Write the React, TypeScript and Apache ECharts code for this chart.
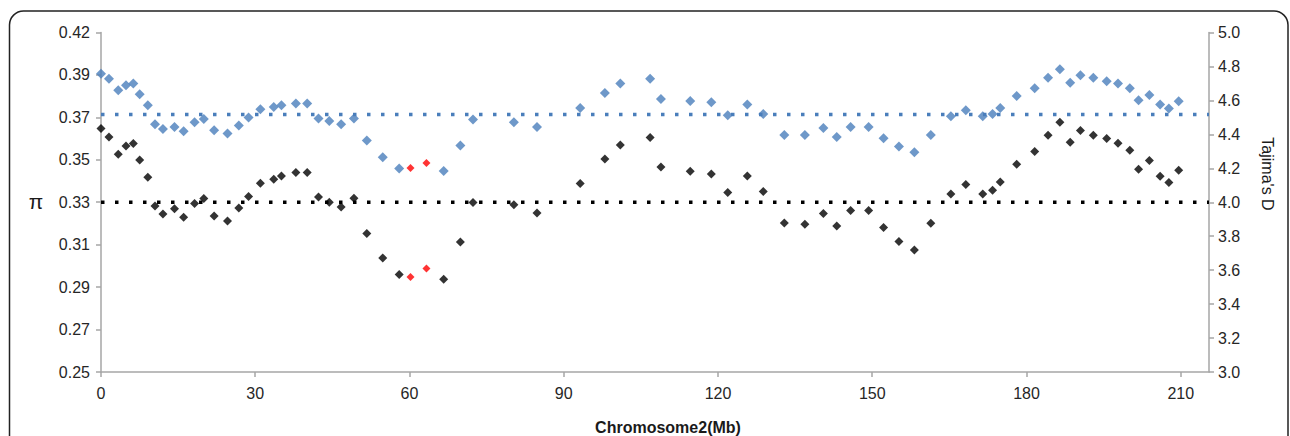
import React, { useEffect, useRef } from "react";
import * as echarts from "echarts";

// Window positions along chromosome 2 (Mb)
const xMb = [
  0.0, 1.55, 3.36, 4.86, 6.28, 7.52, 9.1, 10.5, 12.05, 14.3,
  16.07, 18.2, 20.0, 22.0, 24.6, 26.8, 28.7, 31.0, 33.6, 35.1,
  37.9, 40.1, 42.3, 44.4, 46.7, 49.2, 51.7, 54.8, 58.0, 60.2,
  63.3, 66.65, 69.9, 72.35, 80.3, 84.8, 93.2, 98.0, 101.0, 106.8,
  108.9, 114.6, 118.7, 121.9, 125.7, 128.8, 132.9, 136.9, 140.5, 143.1,
  145.8, 149.3, 152.2, 155.2, 158.2, 161.4, 165.3, 168.2, 171.5, 173.4,
  174.9, 178.1, 181.6, 184.2, 186.5, 188.5, 190.5, 193.0, 195.6, 197.8,
  200.1, 201.8, 203.9, 206.0, 207.7, 209.6,
];

// Nucleotide diversity (π), left axis
const piValues = [
  0.3994, 0.3969, 0.3911, 0.3936, 0.3944, 0.3891, 0.3836, 0.374, 0.3717, 0.3727,
  0.3705, 0.375, 0.3767, 0.371, 0.3694, 0.3734, 0.3774, 0.3816, 0.3827, 0.3836,
  0.3844, 0.3844, 0.3769, 0.3757, 0.374, 0.3769, 0.3659, 0.3575, 0.3519, 0.3522,
  0.3547, 0.3507, 0.3634, 0.3764, 0.375, 0.3727, 0.3822, 0.3897, 0.3944, 0.3969,
  0.3867, 0.3857, 0.3851, 0.3786, 0.3839, 0.3792, 0.3687, 0.3687, 0.3722, 0.3677,
  0.3727, 0.3727, 0.367, 0.3629, 0.36, 0.3687, 0.3781, 0.3811, 0.3781, 0.3792,
  0.3822, 0.3882, 0.3921, 0.3974, 0.4016, 0.3949, 0.3986, 0.3974, 0.3956, 0.3944,
  0.3921, 0.3861, 0.3887, 0.3839, 0.3819, 0.3856,
];

// Tajima's D, right axis
const tajimaD = [
  4.434, 4.385, 4.283, 4.332, 4.346, 4.249, 4.147, 3.978, 3.931, 3.961,
  3.912, 3.992, 4.022, 3.919, 3.89, 3.966, 4.034, 4.112, 4.135, 4.155,
  4.175, 4.175, 4.031, 4.0, 3.972, 4.024, 3.816, 3.672, 3.574, 3.56,
  3.61, 3.547, 3.766, 3.998, 3.986, 3.937, 4.11, 4.255, 4.337, 4.381,
  4.208, 4.183, 4.167, 4.057, 4.155, 4.063, 3.878, 3.87, 3.933, 3.86,
  3.951, 3.951, 3.851, 3.769, 3.719, 3.876, 4.049, 4.104, 4.049, 4.071,
  4.12, 4.224, 4.299, 4.395, 4.471, 4.353, 4.422, 4.395, 4.375, 4.347,
  4.306, 4.194, 4.246, 4.153, 4.116, 4.188,
];

// Windows highlighted in red
const redIndices = [29, 30];

// Genome-wide reference levels
const piMean = 0.3789;
const dMean = 4.0;

const piTickValues = [0.25, 0.27125, 0.2925, 0.31375, 0.335, 0.35625, 0.3775, 0.39875, 0.42];
const piTickLabels = ["0.25", "0.27", "0.29", "0.31", "0.33", "0.35", "0.37", "0.39", "0.42"];
const xTickValues = [0, 30, 60, 90, 120, 150, 180, 210];

const X_MAX = 215.5;
const FONT = "'Liberation Sans', Arial, sans-serif";
const AXIS_COLOR = "#a6a6a6";
const LABEL_COLOR = "#262626";
const BLUE = "#4a7ebb";

export default function App() {
  const ref = useRef<HTMLDivElement>(null);

  useEffect(() => {
    if (!ref.current) return;
    const chart = echarts.init(ref.current, undefined, { renderer: "svg" });

    const piLabel = (v: number) => {
      let best = 0;
      for (let i = 1; i < piTickValues.length; i++) {
        if (Math.abs(piTickValues[i] - v) < Math.abs(piTickValues[best] - v)) best = i;
      }
      return piTickLabels[best];
    };

    const blueData = xMb.map((x, i) =>
      redIndices.includes(i)
        ? { value: [x, piValues[i]], symbolSize: 8, itemStyle: { color: "#ff0000" } }
        : { value: [x, piValues[i]] }
    );
    const blackData = xMb.map((x, i) =>
      redIndices.includes(i)
        ? { value: [x, tajimaD[i]], symbolSize: 8, itemStyle: { color: "#ff0000" } }
        : { value: [x, tajimaD[i]] }
    );

    chart.setOption({
      animation: false,
      backgroundColor: "#ffffff",
      textStyle: { fontFamily: FONT },
      grid: {
        left: 101,
        right: 81,
        top: 32.5,
        bottom: 64,
        containLabel: false,
        outerBoundsMode: "none",
      },
      xAxis: {
        type: "value",
        min: 0,
        max: X_MAX,
        axisLine: { show: true, lineStyle: { color: AXIS_COLOR, width: 1.5 } },
        axisTick: {
          show: true,
          length: 5,
          customValues: xTickValues,
          lineStyle: { color: AXIS_COLOR, width: 1.5 },
        },
        axisLabel: {
          customValues: xTickValues,
          margin: 13,
          fontSize: 16,
          color: LABEL_COLOR,
          fontFamily: FONT,
        },
        splitLine: { show: false },
      },
      yAxis: [
        {
          type: "value",
          position: "left",
          min: 0.25,
          max: 0.42,
          axisLine: { show: true, lineStyle: { color: AXIS_COLOR, width: 1.5 } },
          axisTick: {
            show: true,
            length: 5,
            customValues: piTickValues,
            lineStyle: { color: AXIS_COLOR, width: 1.5 },
          },
          axisLabel: {
            customValues: piTickValues,
            formatter: (v: number) => piLabel(v),
            margin: 11,
            fontSize: 16,
            color: LABEL_COLOR,
            fontFamily: FONT,
          },
          splitLine: { show: false },
        },
        {
          type: "value",
          position: "right",
          min: 3,
          max: 5,
          interval: 0.2,
          axisLine: { show: true, lineStyle: { color: AXIS_COLOR, width: 1.5 } },
          axisTick: { show: true, length: 5, lineStyle: { color: AXIS_COLOR, width: 1.5 } },
          axisLabel: {
            formatter: (v: number) => v.toFixed(1),
            margin: 9,
            fontSize: 16,
            color: LABEL_COLOR,
            fontFamily: FONT,
          },
          splitLine: { show: false },
        },
      ],
      graphic: [
        {
          type: "rect",
          shape: { x: 9.5, y: 11, width: 1278.5, height: 470, r: 14 },
          style: { fill: "none", stroke: "#222222", lineWidth: 1.5 },
          silent: true,
          z: -1,
        },
        {
          type: "text",
          x: 36,
          y: 201,
          style: {
            text: "π",
            fontSize: 21,
            fontFamily: FONT,
            fill: "#1a1a1a",
            textAlign: "center",
            textVerticalAlign: "middle",
          },
        },
        {
          type: "text",
          x: 1267,
          y: 174,
          rotation: -Math.PI / 2,
          style: {
            text: "Tajima's D",
            fontSize: 16,
            fontFamily: FONT,
            fill: "#1a1a1a",
            textAlign: "center",
            textVerticalAlign: "middle",
          },
        },
        {
          type: "text",
          x: 668,
          y: 427,
          style: {
            text: "Chromosome2(Mb)",
            fontSize: 16,
            fontWeight: "bold",
            fontFamily: FONT,
            fill: "#1a1a1a",
            textAlign: "center",
            textVerticalAlign: "middle",
          },
        },
      ],
      series: [
        {
          name: "π mean",
          type: "line",
          yAxisIndex: 0,
          data: [
            [0, piMean],
            [X_MAX, piMean],
          ],
          symbol: "none",
          lineStyle: { color: BLUE, width: 3.5, type: [3.5, 10.5], cap: "butt" },
          silent: true,
          z: 1,
        },
        {
          name: "Tajima's D mean",
          type: "line",
          yAxisIndex: 1,
          data: [
            [0, dMean],
            [X_MAX, dMean],
          ],
          symbol: "none",
          lineStyle: { color: "#000000", width: 3.5, type: [3.5, 10.5], cap: "butt" },
          silent: true,
          z: 1,
        },
        {
          name: "π",
          type: "scatter",
          yAxisIndex: 0,
          symbol: "diamond",
          symbolSize: 10,
          itemStyle: { color: BLUE },
          data: blueData,
          z: 3,
        },
        {
          name: "Tajima's D",
          type: "scatter",
          yAxisIndex: 1,
          symbol: "diamond",
          symbolSize: 9,
          itemStyle: { color: "#000000" },
          data: blackData,
          z: 3,
        },
      ],
    });

    return () => chart.dispose();
  }, []);

  return (
    <div
      ref={ref}
      style={{ position: "fixed", left: 0, top: 0, width: 1290, height: 436 }}
    />
  );
}
